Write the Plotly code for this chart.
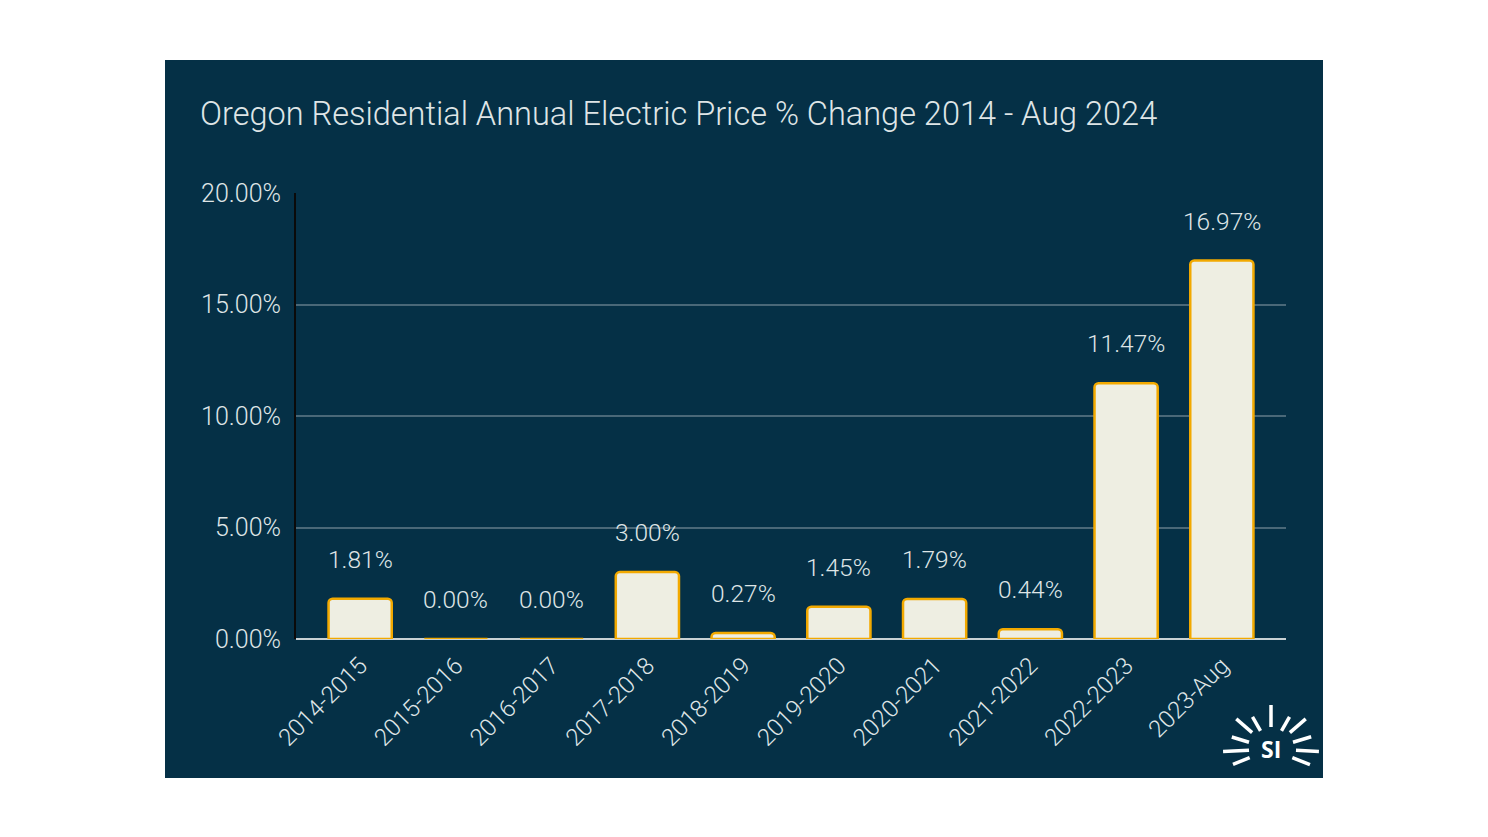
import math
import plotly.graph_objects as go

categories = ["2014-2015", "2015-2016", "2016-2017", "2017-2018", "2018-2019",
              "2019-2020", "2020-2021", "2021-2022", "2022-2023", "2023-Aug"]
pct_change = [1.81, 0.00, 0.00, 3.00, 0.27, 1.45, 1.79, 0.44, 11.47, 16.97]
y_ticks = [0, 5, 10, 15, 20]
y_tick_labels = ["0.00%", "5.00%", "10.00%", "15.00%", "20.00%"]
title_text = "Oregon Residential Annual Electric Price % Change 2014 - Aug 2024"

W, H = 1488, 837
L, R, T, B = 296, 1286, 193, 639  # plot area in pixels
BG = "#053046"
TXT = "#dfe5e6"
FONT = "Roboto"
WEIGHT = 300

def px(x):
    return (x - L) / (R - L)

def py(y):
    return (B - y) / (B - T)

fig = go.Figure()
fig.add_trace(go.Bar(
    x=categories, y=pct_change,
    marker=dict(color="#eeeee2", line=dict(color="#f2a900", width=2.5), cornerradius=4),
    hoverinfo="x+y",
))

annotations = []
for c, v in zip(categories, pct_change):
    annotations.append(dict(x=c, y=v, xref="x", yref="y", text=f"{v:.2f}%",
                            showarrow=False, yanchor="bottom", yshift=23,
                            font=dict(family=FONT, size=24.5, color=TXT, weight=WEIGHT)))

# title
annotations.append(dict(x=px(198), y=py(114), xref="paper", yref="paper",
                        xanchor="left", yanchor="middle", text=title_text, showarrow=False,
                        font=dict(family=FONT, size=32.5, color=TXT, weight=WEIGHT)))

shapes = []
# dark panel
shapes.append(dict(type="rect", xref="paper", yref="paper", layer="below",
                   x0=px(165), x1=px(1323), y0=py(778), y1=py(60),
                   fillcolor=BG, line=dict(width=0)))

# logo rays (angle deg, inner radius, outer radius) in pixels
cx, cy = 1271, 749
rays = [(-22, 23, 42), (-3, 25, 48), (17, 23, 42), (41, 25, 46), (60, 21, 37),
        (90, 22, 44), (120, 21, 37), (139, 25, 46), (163, 23, 41), (183, 22, 48), (202, 23, 41)]
for ang, r0, r1 in rays:
    a = math.radians(ang)
    x0 = cx + r0 * math.cos(a); y0 = cy - r0 * math.sin(a)
    x1 = cx + r1 * math.cos(a); y1 = cy - r1 * math.sin(a)
    shapes.append(dict(type="line", xref="paper", yref="paper",
                       x0=px(x0), y0=py(y0), x1=px(x1), y1=py(y1),
                       line=dict(color="white", width=3.5)))
annotations.append(dict(x=px(cx), y=py(cy), xref="paper", yref="paper",
                        text="<b>SI</b>", showarrow=False, xanchor="center", yanchor="middle",
                        font=dict(family="Open Sans", size=23, color="white")))

fig.update_layout(
    width=W, height=H,
    margin=dict(l=L, r=W - R, t=T, b=H - B, pad=0),
    paper_bgcolor="white", plot_bgcolor=BG,
    bargap=0.34, showlegend=False,
    annotations=annotations, shapes=shapes,
    font=dict(family=FONT, color=TXT),
    xaxis=dict(range=[-0.67, 9.67], tickangle=-45, showgrid=False, zeroline=False,
               showline=False, ticks="outside", ticklen=2, tickcolor="rgba(0,0,0,0)",
               tickfont=dict(family=FONT, size=24, color=TXT, weight=WEIGHT)),
    yaxis=dict(range=[0, 20], tickvals=y_ticks, ticktext=y_tick_labels,
               showgrid=True, gridcolor="#4a6878", gridwidth=1.5,
               zeroline=True, zerolinecolor="#c9d1d4", zerolinewidth=2,
               showline=True, linecolor="#0a0a0a", linewidth=2,
               ticks="outside", ticklen=8, tickcolor="rgba(0,0,0,0)",
               tickfont=dict(family=FONT, size=25, color=TXT, weight=WEIGHT)),
)

fig.write_html("out.html", config={"displayModeBar": False},
               post_script="document.body.style.margin='0';document.body.style.overflow='hidden';")
